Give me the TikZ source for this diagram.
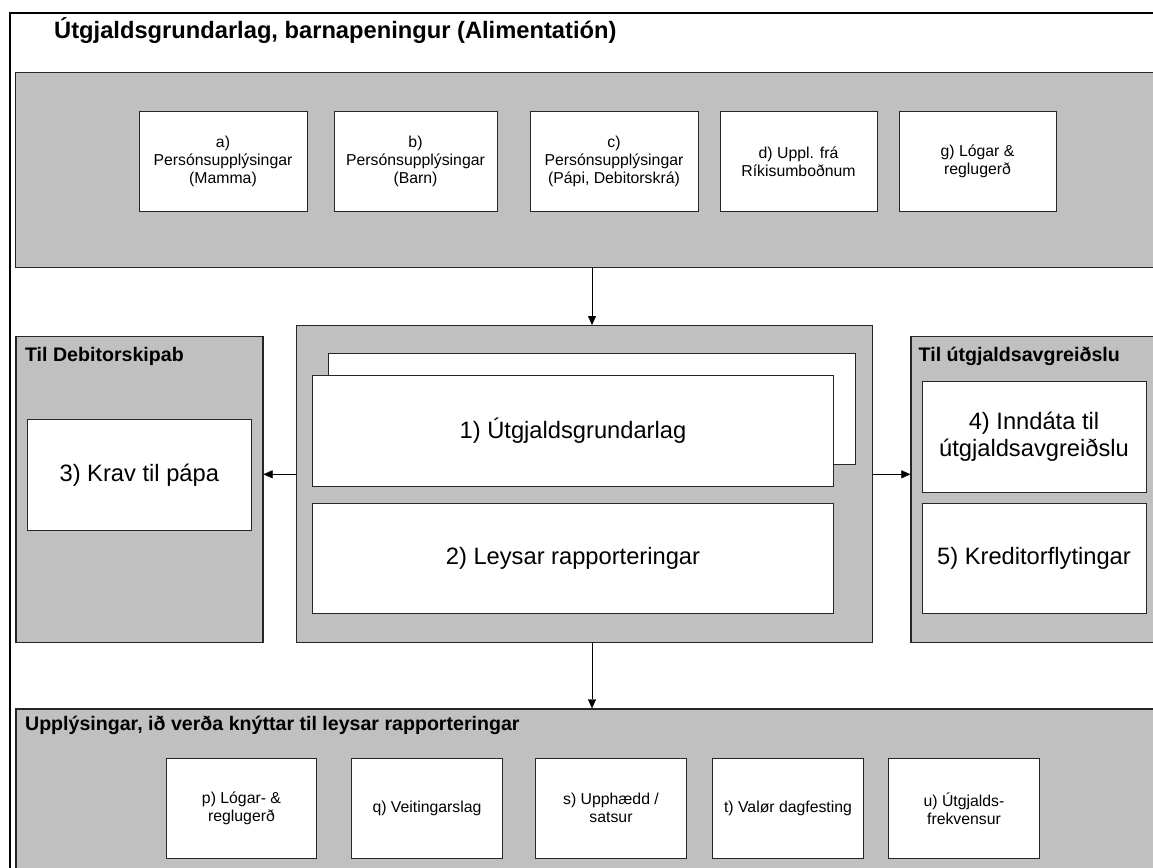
\documentclass[tikz,border=0pt]{standalone}
\usepackage{fontspec}
\setmainfont{Liberation Sans}
\usetikzlibrary{arrows.meta}

\definecolor{panelgrey}{HTML}{C0C0C0}
\tikzset{
	panel/.style={draw=black!85, fill=panelgrey, line width=1.2pt, anchor=north west, inner sep=0pt},
	smallbox/.style={draw=black!85, fill=white, line width=1pt, align=center, inner sep=0pt, minimum height=99.5pt, font=\fontsize{15.8}{18}\selectfont},
	bigbox/.style={draw=black!85, fill=white, line width=1pt, align=center, inner sep=0pt, anchor=north west, font=\fontsize{23.7}{27.7}\selectfont},
	heading/.style={anchor=base west, inner sep=0pt, font=\fontsize{19.6}{22}\selectfont\bfseries},
	>={Triangle[length=9pt,width=8pt]}
}

\begin{document}
\begin{tikzpicture}[x=1pt,y=-1pt]
		\clip (0,0) rectangle (1153,867);
		\fill[white] (0,0) rectangle (1153,867);
		\draw[line width=2pt] (10,13) rectangle (1170,890);
		\node[anchor=base west, inner sep=0pt, font=\fontsize{23.7}{28}\selectfont\bfseries] (title) at (54,38.5) {Útgjaldsgrundarlag, barnapeningur (Alimentatión)};

		\node[panel, minimum width=1160pt, minimum height=194.7pt] (inputs) at (15,72) {};
		\node[smallbox, minimum width=168pt] (mamma) at (223,161.3) {a)\\Persónsupplýsingar\\(Mamma)};
		\node[smallbox, minimum width=163pt] (barn) at (415.5,161.3) {b)\\Persónsupplýsingar\\(Barn)};
		\node[smallbox, minimum width=168pt] (papi) at (614,161.3) {c)\\Persónsupplýsingar\\(Pápi, Debitorskrá)};
		\node[smallbox, minimum width=157pt] (riki) at (798.5,161.3) {d) Uppl. frá\\Ríkisumboðnum};
		\node[smallbox, minimum width=157pt] (logar) at (977.5,161.3) {g) Lógar \&\\reglugerð};

		\node[panel, minimum width=576pt, minimum height=316.7pt] (grund) at (295.5,325) {};
		\node[bigbox, minimum width=526.2pt, minimum height=111.3pt] (stack) at (328.4,352.7) {};
		\node[bigbox, minimum width=520.4pt, minimum height=110.7pt] (utgjald) at (312.3,375.3) {1) Útgjaldsgrundarlag};
		\node[bigbox, minimum width=520.4pt, minimum height=110.6pt] (leysar) at (312.3,502.7) {2) Leysar rapporteringar};

		\node[panel, minimum width=247pt, minimum height=305.7pt] (debitor) at (15.3,336) {};
		\node[heading] (debitorhead) at (24.9,361) {Til Debitorskipab};
		\node[bigbox, minimum width=224pt, minimum height=110.7pt] (krav) at (26.8,419.3) {3) Krav til pápa};

		\node[panel, minimum width=260pt, minimum height=305.7pt] (avgreidsla) at (910.4,336) {};
		\node[heading] (avgreidslahead) at (918.5,361.7) {Til útgjaldsavgreiðslu};
		\node[bigbox, minimum width=224pt, minimum height=111pt] (inndata) at (921.5,380.7) {4) Inndáta til\\útgjaldsavgreiðslu};
		\node[bigbox, minimum width=224pt, minimum height=110.6pt] (kreditor) at (921.5,502.7) {5) Kreditorflytingar};

		\node[panel, minimum width=1160pt, minimum height=180pt] (upplys) at (15.3,708.3) {};
		\node[heading] (upplyshead) at (24.9,730) {Upplýsingar, ið verða knýttar til leysar rapporteringar};
		\node[smallbox, minimum width=150pt, minimum height=100pt] (logargr) at (241.5,808.3) {p) Lógar- \&\\reglugerð};
		\node[smallbox, minimum width=151pt, minimum height=100pt] (veiting) at (427,808.3) {q) Veitingarslag};
		\node[smallbox, minimum width=151pt, minimum height=100pt] (upphaedd) at (611,808.3) {s) Upphædd /\\satsur};
		\node[smallbox, minimum width=151pt, minimum height=100pt] (valor) at (788,808.3) {t) Valør dagfesting};
		\node[smallbox, minimum width=151pt, minimum height=100pt] (frekvens) at (964,808.3) {u) Útgjalds-\\frekvensur};

		\coordinate (drop) at (592,0);
		\coordinate (flow) at (0,474.3);
		\draw[->] (inputs.south -| drop) -- (grund.north -| drop);
		\draw[->] (grund.south -| drop) -- (upplys.north -| drop);
		\draw[->] (grund.west |- flow) -- (debitor.east |- flow);
		\draw[->] (grund.east |- flow) -- (avgreidsla.west |- flow);
	\end{tikzpicture}
\end{document}
